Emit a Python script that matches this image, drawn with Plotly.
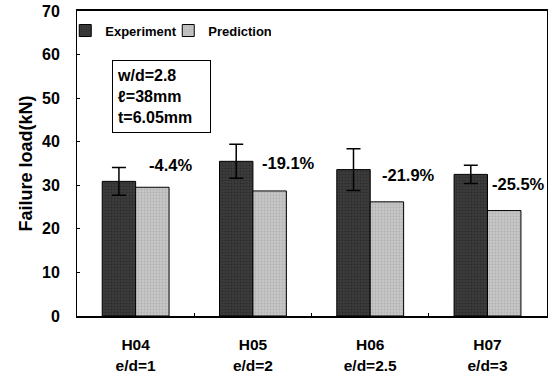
import plotly.graph_objects as go

categories = ["H04", "H05", "H06", "H07"]
conditions = ["e/d=1", "e/d=2", "e/d=2.5", "e/d=3"]
experiment = [30.9, 35.5, 33.6, 32.5]
experiment_err = [3.2, 3.9, 4.8, 2.1]
prediction = [29.55, 28.7, 26.2, 24.2]
diff_labels = ["-4.4%", "-19.1%", "-21.9%", "-25.5%"]
yticks = [0, 10, 20, 30, 40, 50, 60, 70]
info_lines = ["w/d=2.8", "\u2113=38mm", "t=6.05mm"]

# label placement (layout, not data)
label_y = [34.7, 35.1, 32.3, 30.3]
label_xshift = [35, 36, 38, 31]

FONT = "Liberation Sans, Arial, sans-serif"

fig = go.Figure()
fig.add_trace(go.Bar(
    x=categories, y=experiment, name="Experiment",
    marker=dict(color="#3c3c3c", line=dict(color="black", width=1),
                pattern=dict(shape=".", fgcolor="#1a1a1a", size=3, solidity=0.3)),
    error_y=dict(type="data", array=experiment_err, visible=True,
                 color="black", thickness=1.5, width=7),
))
fig.add_trace(go.Bar(
    x=categories, y=prediction, name="Prediction",
    marker=dict(color="#c6c6c6", line=dict(color="black", width=1),
                pattern=dict(shape=".", fgcolor="#9a9a9a", size=3, solidity=0.3)),
))

for c, t, yv, xs in zip(categories, diff_labels, label_y, label_xshift):
    fig.add_annotation(x=c, y=yv, text=f"<b>{t}</b>", showarrow=False,
                       xshift=xs, font=dict(family=FONT, size=16.5, color="black"))

fig.add_annotation(
    xref="paper", yref="paper", x=0.0745, y=0.839, xanchor="left", yanchor="top",
    text="<b>" + "<br>".join(info_lines) + "</b>", align="left", showarrow=False,
    bordercolor="black", borderwidth=1, borderpad=4, bgcolor="white",
    width=89, height=63,
    font=dict(family=FONT, size=16, color="black"),
)

fig.update_layout(
    width=553, height=377,
    margin=dict(l=77, r=6, t=11, b=61),
    paper_bgcolor="white", plot_bgcolor="white",
    barmode="group", bargap=0.43, bargroupgap=0,
    font=dict(family=FONT, size=15, color="black"),
    showlegend=True,
    legend=dict(orientation="h", x=-0.025, y=0.985, xanchor="left", yanchor="top",
                bgcolor="rgba(0,0,0,0)",
                font=dict(family=FONT, size=13, color="black", weight="bold"),
                itemwidth=30, entrywidth=58, tracegroupgap=0),
)
fig.update_yaxes(
    range=[0, 70], tickvals=yticks, ticktext=[f"<b>{v}</b>" for v in yticks],
    showgrid=False, zeroline=False, showline=True, linecolor="black", linewidth=1,
    mirror=True, ticks="inside", ticklen=3, tickcolor="black", automargin=False,
    ticklabelstandoff=13, tickfont=dict(size=16),
    title=dict(text="<b>Failure load(kN)</b>", font=dict(size=18), standoff=4),
)
fig.update_xaxes(
    tickvals=categories,
    ticktext=[f"<b>{c}</b><br><b>{d}</b>" for c, d in zip(categories, conditions)],
    showgrid=False, showline=True, linecolor="black", linewidth=1.5, mirror=True,
    ticks="inside", tickson="boundaries", ticklen=3, tickcolor="black", automargin=False,
    ticklabelstandoff=14, tickfont=dict(size=15.5),
)

fig.write_html("out.html")
